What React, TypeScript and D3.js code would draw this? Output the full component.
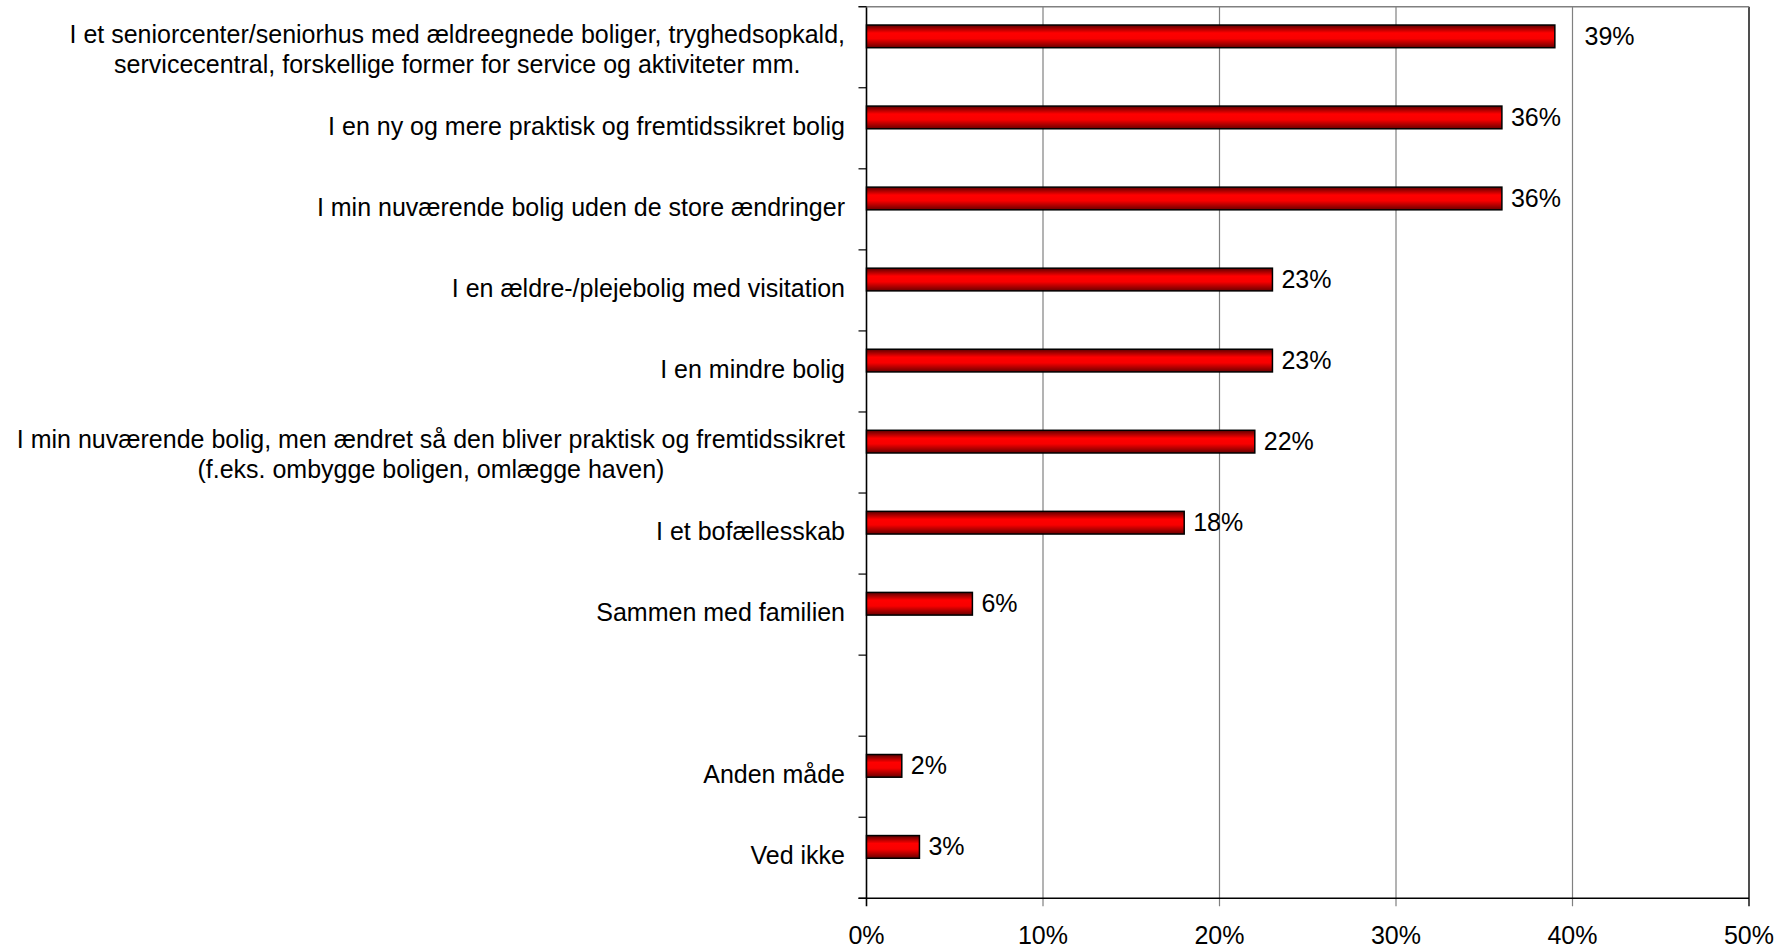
import React from "react";
import * as d3 from "d3";

const categoryLines: string[][] = [
  ["I et seniorcenter/seniorhus med ældreegnede boliger, tryghedsopkald,", "servicecentral, forskellige former for service og aktiviteter mm."],
  ["I en ny og mere praktisk og fremtidssikret bolig"],
  ["I min nuværende bolig uden de store ændringer"],
  ["I en ældre-/plejebolig med visitation"],
  ["I en mindre bolig"],
  ["I min nuværende bolig, men ændret så den bliver praktisk og fremtidssikret", "(f.eks. ombygge boligen, omlægge haven)"],
  ["I et bofællesskab"],
  ["Sammen med familien"],
  [],
  ["Anden måde"],
  ["Ved ikke"],
];
const values: (number | null)[] = [0.39, 0.36, 0.36, 0.23, 0.23, 0.22, 0.18, 0.06, null, 0.02, 0.03];
const valueLabels: string[] = ["39%", "36%", "36%", "23%", "23%", "22%", "18%", "6%", "", "2%", "3%"];
const xTicks: number[] = [0, 0.1, 0.2, 0.3, 0.4, 0.5];
const xTickLabels: string[] = ["0%", "10%", "20%", "30%", "40%", "50%"];

const W = 1789;
const H = 949;
const FONT = "'Liberation Sans', Arial, sans-serif";
const FS = 25;

let ctx: CanvasRenderingContext2D | null = null;
function measure(t: string): number {
  if (!ctx) {
    const c = document.createElement("canvas");
    ctx = c.getContext("2d");
  }
  if (!ctx) return t.length * FS * 0.5;
  ctx.font = `${FS}px ${FONT}`;
  return ctx.measureText(t).width;
}

export default function App() {
  const x = d3.scaleLinear().domain([0, 0.5]).range([866.5, 1749]);
  const idx = categoryLines.map((_, i) => String(i));
  const y = d3.scaleBand<string>().domain(idx).range([6.7, 898.3]).padding(0);
  const bw = y.bandwidth();
  const x0 = x(0);
  const xMax = x(0.5);
  const top = y.range()[0];
  const bottom = y.range()[1];
  const labelRight = 845;

  const boundaries = d3.range(idx.length + 1).map((i) => top + i * bw);

  return (
    <div style={{ position: "absolute", left: 0, top: 0 }}>
      <svg width={W} height={H} style={{ display: "block", background: "#fff" }} fontFamily={FONT}>
        <defs>
          <linearGradient id="barGrad" x1="0" y1="0" x2="0" y2="1">
            <stop offset="0" stopColor="#5c0000" />
            <stop offset="0.35" stopColor="#ff0000" />
            <stop offset="0.6" stopColor="#f80000" />
            <stop offset="1" stopColor="#6a0000" />
          </linearGradient>
        </defs>
        {/* gridlines */}
        {xTicks.map((t, i) => (
          <line
            key={"g" + i}
            x1={x(t)}
            x2={x(t)}
            y1={top}
            y2={bottom + 8}
            stroke={i === 0 ? "#000" : i === xTicks.length - 1 ? "#222" : "#808080"}
            strokeWidth={i === 0 || i === xTicks.length - 1 ? 1.6 : 1.2}
          />
        ))}
        {/* top border */}
        <line x1={x0 - 8} x2={xMax} y1={top} y2={top} stroke="#808080" strokeWidth={1.4} />
        {/* left ticks */}
        {boundaries.map((b, i) => (
          <line key={"lt" + i} x1={x0 - 8} x2={x0} y1={b} y2={b} stroke="#000" strokeWidth={1.2} />
        ))}
        {/* bottom axis */}
        <line x1={x0 - 8} x2={xMax} y1={bottom} y2={bottom} stroke="#000" strokeWidth={1.6} />
        {/* bars */}
        {values.map((v, i) => {
          if (v == null) return null;
          const by = (y(String(i)) as number) + 0.226 * bw;
          const bh = 0.28 * bw;
          return (
            <rect
              key={"b" + i}
              x={x0}
              y={by}
              width={x(v) - x0}
              height={bh}
              fill="url(#barGrad)"
              stroke="#000"
              strokeWidth={1.5}
            />
          );
        })}
        {/* value labels */}
        {values.map((v, i) => {
          if (v == null) return null;
          const cy = (y(String(i)) as number) + 0.226 * bw + 0.14 * bw;
          let lx = x(v) + 9;
          const nextGrid = xTicks.find((t) => x(t) > x(v));
          if (nextGrid !== undefined && x(nextGrid) - x(v) < 20) lx = x(nextGrid) + 12;
          return (
            <text key={"v" + i} x={lx} y={cy + 8.5} fontSize={FS} fill="#000">
              {valueLabels[i]}
            </text>
          );
        })}
        {/* category labels */}
        {categoryLines.map((lines, i) => {
          if (lines.length === 0) return null;
          const c = (y(String(i)) as number) + bw / 2;
          if (lines.length === 1) {
            return (
              <text key={"c" + i} x={labelRight} y={c + 6.5} fontSize={FS} textAnchor="end" fill="#000">
                {lines[0]}
              </text>
            );
          }
          const maxW = Math.max(...lines.map(measure));
          const cx = labelRight - maxW / 2;
          return (
            <text key={"c" + i} fontSize={FS} textAnchor="middle" fill="#000">
              {lines.map((l, j) => (
                <tspan key={j} x={cx} y={c - 4.5 + j * 30}>
                  {l}
                </tspan>
              ))}
            </text>
          );
        })}
        {/* x tick labels */}
        {xTicks.map((t, i) => (
          <text key={"xt" + i} x={x(t)} y={943.5} fontSize={FS} textAnchor="middle" fill="#000">
            {xTickLabels[i]}
          </text>
        ))}
      </svg>
    </div>
  );
}
